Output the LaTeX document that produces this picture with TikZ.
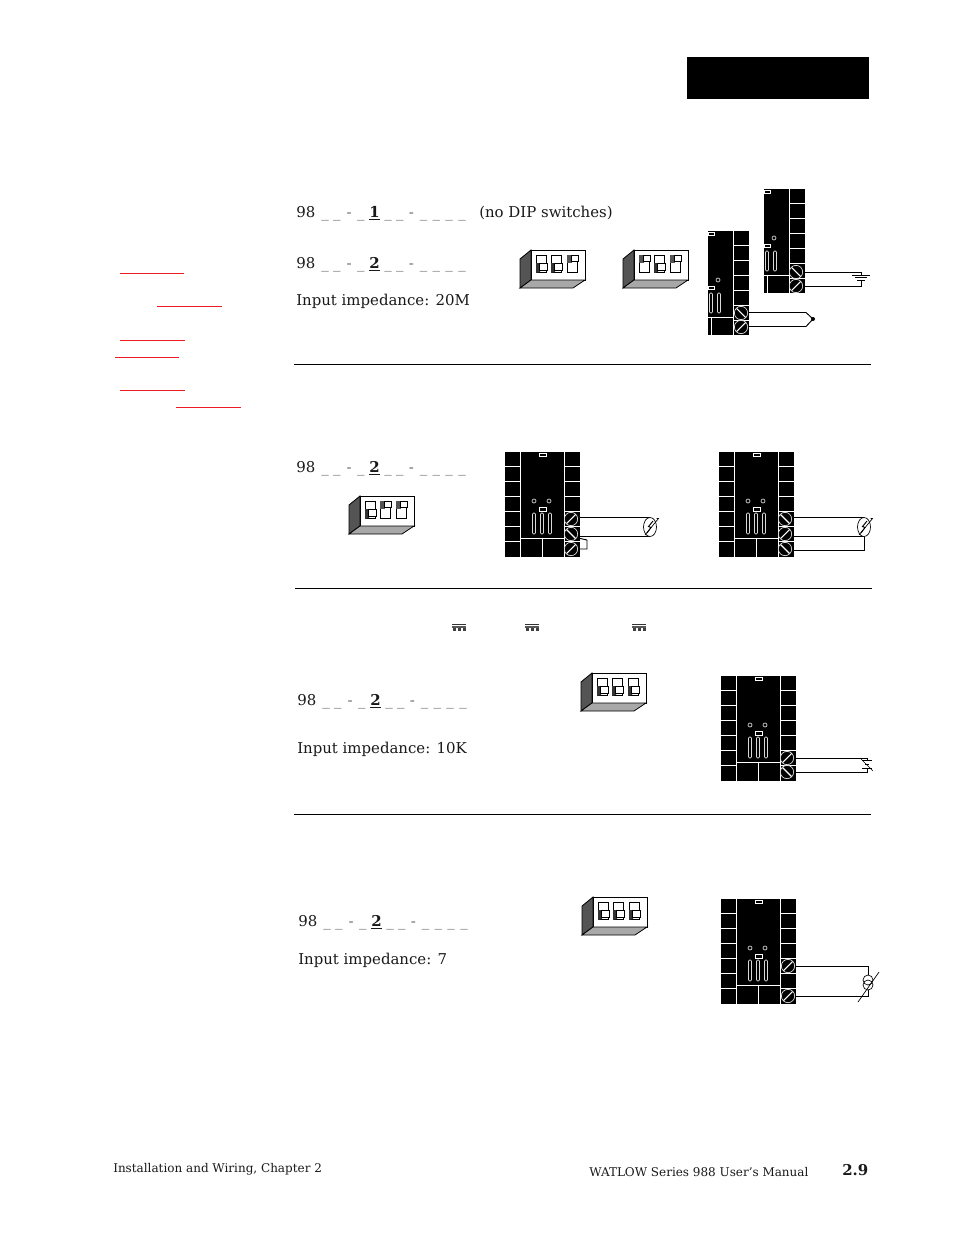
\documentclass[tikz,border=0pt]{standalone}
\usepackage{fontspec}
\setmainfont{DejaVu Serif}
\definecolor{dipdark}{gray}{0.33}
\definecolor{dipmid}{gray}{0.66}
\definecolor{marginred}{HTML}{ED1C24}
\colorlet{dark}{black!80}
\colorlet{dashgrey}{black!60}
\tikzset{
	wire/.style={line width=0.7pt,line join=miter},
	rule/.style={line width=0.6pt},
	gridline/.style={white,line width=0.7pt},
	screw/.style={circle,draw=white!85!black,line width=0.55pt,minimum size=10pt,inner sep=0pt},
	body/.style={font=\fontsize{11.2}{13}\selectfont,anchor=base west,inner sep=0pt,text=black!90},
	foot/.style={font=\fontsize{9}{10}\selectfont,anchor=base west,inner sep=0pt,text=black!90},
	slot/.style={draw=white!85!black,line width=0.5pt,rounded corners=0.8pt}
}
% small parts of the drawing
\newcommand{\dipflip}[2]{% #1 = x of the slot, #2 = 1 up, 0 down
	\draw[line width=0.45pt,fill=white] (#1,5) rectangle (#1+10,22);
	\ifnum#2=1
		\fill[dipdark] (#1,5) rectangle (#1+5,13);
		\draw[line width=0.7pt,fill=white] (#1+4,5) rectangle (#1+11.5,11.5);
	\else
		\fill[dark] (#1,13) -- (#1+4,13) -- (#1+4,22) -- (#1,23) -- cycle;
		\draw[line width=0.7pt,fill=white] (#1+3.5,13) rectangle (#1+11.5,20.5);
	\fi
}
\newcommand{\dipswitch}[5]{% position, then three switches
	\begin{scope}[shift={(#1,#2)}]
		\draw[line width=0.6pt,fill=white] (11,0) rectangle (65,30);
		\draw[line width=0.6pt,fill=dipdark] (0,38)--(0,9)--(11,0)--(11,30)--cycle;
		\draw[line width=0.6pt,fill=dipmid] (0,38)--(53,38)--(65,30)--(11,30)--cycle;
		\dipflip{16}{#3}
		\dipflip{31}{#4}
		\dipflip{47}{#5}
	\end{scope}
}
\newcommand{\fullboard}[2]{%
	\begin{scope}[shift={(#1,#2)}]
		\fill (0,0) rectangle (75,105);
		\draw[gridline] (15,0)--(15,105);
		\draw[gridline] (59,0)--(59,105);
		\foreach \row in {14,29,44,59,74,89} {
			\draw[gridline] (0,\row)--(15,\row);
			\draw[gridline] (59,\row)--(75,\row);
		}
		\draw[gridline] (15,86)--(59,86);
		\draw[gridline] (37,86)--(37,105);
		\draw[gridline,line width=0.5pt] (34,1.5) rectangle (41,4.5);
		\draw[gridline,line width=0.5pt] (34,55.5) rectangle (41,59);
		\foreach \dotx in {29,44}
			\draw[white!85!black,line width=0.5pt] (\dotx,49) circle (2);
		\foreach \slotx in {29,37,45}
			\draw[slot] (\slotx-1.5,61) rectangle (\slotx+1.5,82);
	\end{scope}
}
\newcommand{\partboard}[2]{%
	\begin{scope}[shift={(#1,#2)}]
		\fill (0,0) rectangle (41,104);
		\draw[gridline] (25,0)--(25,104);
		\foreach \row in {14,29,44,59,74,89}
			\draw[gridline] (25,\row)--(41,\row);
		\draw[gridline] (0,86)--(25,86);
		\draw[gridline] (3,86)--(3,104);
		\draw[gridline,line width=0.5pt] (0,1.5) rectangle (6.5,4.5);
		\draw[gridline,line width=0.5pt] (0,55.5) rectangle (6.5,58.5);
		\draw[white!85!black,line width=0.5pt] (10,49) circle (2);
		\draw[slot] (1.5,62) rectangle (4.5,82);
		\draw[slot] (9.5,62) rectangle (12.5,82);
	\end{scope}
}
\newcommand{\screwup}[3]{% name, x, y: slot like /
	\node[screw] (#1) at (#2,#3) {};
	\draw[white,line width=0.8pt] (#2-4.5,#3+4.5)--(#2+4.5,#3-4.5);
}
\newcommand{\screwdown}[3]{% name, x, y: slot like \
	\node[screw] (#1) at (#2,#3) {};
	\draw[white,line width=0.8pt] (#2-4.5,#3-4.5)--(#2+4.5,#3+4.5);
}
\newcommand{\dashes}[1]{\textcolor{dashgrey}{#1}}
\newcommand{\partno}[1]{98\kern4.5pt\dashes{\_\kern3.3pt\_\kern4.6pt-\kern4pt\_}\kern3.6pt\underline{\textbf{#1}}\kern3.4pt\dashes{\_\kern3.3pt\_\kern4pt-\kern4.4pt\_\kern4pt\_\kern4pt\_\kern4pt\_}}
\newcommand{\dipicon}[2]{%
	\begin{scope}[shift={(#1,#2)}]
		\draw[line width=0.7pt,black!80] (0,0.5)--(14,0.5);
		\fill[black!65] (0,2)--(14,2)--(14,3.5)--(0,3.5)--cycle;
		\foreach \boxx in {1,6,11}
			\fill[black!75] (\boxx,4) rectangle (\boxx+2.5,7);
	\end{scope}
}
\newcommand{\sensor}[2]{% centre of the ellipse
	\draw[line width=0.5pt,fill=white] (#1,#2) ellipse (6.5 and 9.5);
	\draw[line width=0.7pt] (#1-3,#2+6)--(#1+1,#2+0.5)--(#1-1.5,#2-0.5)--(#1+3,#2-6);
	\draw[line width=0.5pt] (#1-5,#2+8)--(#1+8.5,#2-8.5)--(#1+6.5,#2-8.5);
}
\begin{document}
\begin{tikzpicture}[x=0.75pt,y=-0.75pt,>=stealth]
	\useasboundingbox (0,0) rectangle (954,1235);
	\fill (687,57) rectangle (869,99);
	% margin marks
	\foreach \ax/\bx/\ay in {120/184/273,157/222/306,120/185/340,115/179/357,120/185/390,176/241/407}
		\draw[marginred,line width=0.75pt] (\ax,\ay)--(\bx,\ay);
	% section rules
	\draw[rule] (294,364)--(871,364);
	\draw[rule] (295,588)--(872,588);
	\draw[rule] (294,814)--(871,814);
	% first section
	\node[body] (codeA) at (296,217) {\partno{1}};
	\node[body] (nodip) at (479,217) {(no DIP switches)};
	\node[body] (codeB) at (296,268) {\partno{2}};
	\node[body] (impA) at (296,305) {Input impedance: 20M};
	\dipswitch{520}{250}{0}{0}{1}
	\dipswitch{623}{250}{1}{0}{1}
	\partboard{764}{189}
	\screwdown{gt}{796}{272}
	\screwup{gb}{796}{286}
	\partboard{708}{231}
	\screwdown{ct}{741}{313}
	\screwup{cb}{741}{327}
	\coordinate (tip) at (813,319);
	\coordinate (cta) at (806,312.5);
	\coordinate (ctb) at (806,326.5);
	\draw[wire] (ct.east |- cta)--(cta)--(tip)--(ctb)--(cb.east |- ctb);
	\fill (tip) circle (2);
	\coordinate (gndt) at (861,275);
	\coordinate (gndb) at (861,280);
	\draw[wire] (gt.east)-|(gndt);
	\draw[wire] (gb.east)-|(gndb);
	\draw[line width=0.5pt] (852,275)--(870,275);
	\draw[line width=0.5pt] (855,277.5)--(867,277.5);
	\draw[line width=0.5pt] (857,280)--(865,280);
	% second section
	\node[body] (codeC) at (296,472) {\partno{2}};
	\dipswitch{349}{496}{0}{1}{1}
	\fullboard{505}{452}
	\screwup{rt}{571}{519}
	\screwdown{rm}{571}{534}
	\screwup{rb}{571}{549}
	\coordinate (rtda) at (650,517);
	\coordinate (rtdb) at (650,536);
	\draw[wire] (rt.east |- rtda)--(rtda);
	\draw[wire] (rm.east |- rtdb)--(rtdb);
	\draw[wire] (rm.east |- 0,538)--(587,540)--(587,549)--(rb.east);
	\sensor{650}{527}
	\fullboard{719}{452}
	\screwdown{st}{785}{519}
	\screwup{sm}{785}{534}
	\screwdown{sb}{785}{549}
	\coordinate (rtdc) at (864,517);
	\coordinate (rtdd) at (864,536);
	\draw[wire] (st.east |- rtdc)--(rtdc);
	\draw[wire] (sm.east |- rtdd)--(rtdd);
	\draw[wire] (sb.east |- 0,550)-|(rtdd);
	\sensor{864}{527}
	% third section
	\dipicon{452}{624}
	\dipicon{525}{624}
	\dipicon{632}{624}
	\node[body] (codeD) at (297,705) {\partno{2}};
	\node[body] (impB) at (297,753) {Input impedance: 10K};
	\dipswitch{581}{673}{0}{0}{0}
	\fullboard{721}{676}
	\screwup{vt}{787}{758}
	\screwdown{vb}{787}{772}
	\coordinate (batt) at (867,760);
	\coordinate (batb) at (867,768);
	\draw[wire] (vt.east)-|(batt);
	\draw[wire] (vb.east)-|(batb);
	\draw[line width=0.6pt] (862,760)--(872,760);
	\draw[line width=0.6pt] (865,764)--(869,764);
	\draw[line width=0.6pt] (862,768)--(872,768);
	\draw[line width=0.4pt] (861,759)--(873,771);
	% fourth section
	\node[body] (codeE) at (298,926) {\partno{2}};
	\node[body] (impC) at (298,964) {Input impedance: 7};
	\dipswitch{582}{897}{0}{0}{0}
	\fullboard{721}{899}
	\screwup{it}{788}{966}
	\screwup{ib}{788}{996}
	\coordinate (cura) at (868,975);
	\coordinate (curb) at (868,990);
	\draw[wire] (it.east)-|(cura);
	\draw[wire] (ib.east)-|(curb);
	\draw[line width=0.5pt] (868,980) circle (5);
	\draw[line width=0.5pt] (868,985) circle (5);
	\draw[line width=0.5pt] (858,1002)--(879,972);
	% footer
	\node[foot] (footL) at (113,1172) {Installation and Wiring, Chapter 2};
	\node[foot] (footR) at (589,1176) {WATLOW Series 988 User's Manual};
	\node[body,font=\fontsize{11.2}{13}\selectfont\bfseries] (page) at (842,1175) {2.9};
\end{tikzpicture}
\end{document}
